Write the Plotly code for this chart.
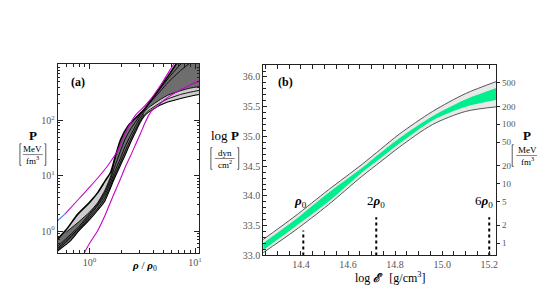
import plotly.graph_objects as go

W, H = 545, 307

# ---------------- Panel (a): P [MeV/fm^3] vs rho/rho0 ----------------
upper_x = [0.5, 0.6, 0.77, 1.0, 1.2, 1.4, 1.59, 1.75, 1.97, 2.3, 2.64, 3.28, 3.8, 4.7, 5.5, 6.5, 7.5, 9, 11]
upper_y = [0.72, 1.05, 2.0, 3.3, 5.0, 8.0, 11.7, 22, 45, 78, 104, 157, 230, 400, 620, 1000, 1500, 2200, 3000]
lower_x = [0.5, 0.65, 0.79, 1.0, 1.2, 1.39, 1.55, 1.72, 1.95, 2.16, 2.45, 2.71, 3.0, 3.3, 3.6, 4.0, 4.7, 5.5, 7.3, 9, 11]
lower_y = [0.44, 0.65, 1.0, 1.6, 2.4, 3.42, 5.5, 8.9, 15, 23, 40, 60, 90, 119, 140, 160, 190, 215, 250, 275, 295]
lens_x = [0.6, 0.8, 1.0, 1.2, 1.4, 1.59, 1.75]
lens_y = [0.95, 1.5, 2.2, 3.3, 5.5, 10, 22]
mid_x = [0.5, 0.79, 1.0, 1.2, 1.39, 1.55, 1.72, 1.95, 2.16, 2.45, 2.71, 3.0, 3.3, 3.6, 4.0, 4.7, 5.5, 7.3, 9, 11]
mid1_y = [0.46, 1.05, 1.75, 2.6, 3.9, 6.0, 10, 17, 27, 46, 68, 98, 128, 150, 172, 210, 245, 295, 325, 350]
mid2_y = [0.49, 1.12, 1.9, 2.9, 4.4, 6.8, 11.5, 20, 33, 54, 78, 110, 140, 168, 195, 240, 285, 345, 385, 410]
mid3_y = [0.53, 1.2, 2.05, 3.1, 4.9, 7.8, 14, 27, 45, 70, 92, 122, 150, 190, 240, 340, 480, 800, 1100, 1400]
stiff_x = [3.3, 4.0, 4.7, 5.5, 7.0, 8.5]
stiff_y = [155, 250, 380, 560, 950, 1400]
mag1_x = [0.58, 0.77, 1.0, 1.2, 1.48, 1.7, 1.84, 2.05, 2.28, 2.73, 3.3, 3.78, 4.4, 5.05, 5.7, 6.3]
mag1_y = [2.0, 3.6, 6.2, 9.2, 15, 22, 28, 45, 70, 125, 180, 240, 360, 535, 780, 1050]
blue_x = [0.5, 0.58]
blue_y = [1.55, 2.0]
mag2_x = [0.89, 1.0, 1.19, 1.4, 1.59, 1.8, 1.97, 2.2, 2.45, 2.75, 3.06, 3.35, 3.65, 4.0, 4.4, 5.05, 6.0, 7.3, 9, 11]
mag2_y = [0.40, 0.6, 1.0, 1.9, 3.42, 6.0, 8.9, 15, 23, 38, 60, 90, 125, 160, 180, 230, 290, 360, 440, 520]

# ---------------- Panel (b): log P vs log energy density ----------------
be_x = [14.23, 14.375, 14.516, 14.656, 14.74, 14.818, 14.959, 15.099, 15.235]
outer_hi = [33.24, 33.66, 34.10, 34.52, 34.79, 35.04, 35.42, 35.72, 35.93]
outer_lo = [33.02, 33.42, 33.85, 34.32, 34.58, 34.82, 35.20, 35.42, 35.50]
green_hi = [33.18, 33.60, 34.05, 34.46, 34.73, 34.97, 35.34, 35.62, 35.82]
green_lo = [33.06, 33.48, 33.90, 34.38, 34.64, 34.88, 35.27, 35.50, 35.62]
rho_x = [14.41, 14.72, 15.20]
rho_top = [33.42, 33.64, 33.64]
rho_labels = ["<b><i>ρ</i></b><sub>0</sub>", "2<b><i>ρ</i></b><sub>0</sub>", "6<b><i>ρ</i></b><sub>0</sub>"]
left_ticks = [33.0, 33.5, 34.0, 34.5, 35.0, 35.5, 36.0]
x2_ticks = [14.4, 14.6, 14.8, 15.0, 15.2]
right_ticks = [1, 2, 5, 10, 20, 50, 100, 200, 500]
LOG_MEV_FM3 = 33.2047  # log10 of 1 MeV/fm^3 in dyn/cm^2

SERIF = "Liberation Serif"
DARK = "#6e6e6e"
LIGHT = "#cdcdcd"
MAG = "#c800c8"

fig = go.Figure()


def line(x, y, color="black", width=1.0, xa="x", ya="y", fill=None, fillcolor=None, show=True, dash=None, sm=0.6):
    fig.add_trace(go.Scatter(
        x=x, y=y, mode="lines", xaxis=xa, yaxis=ya, fill=fill, fillcolor=fillcolor,
        line=dict(color=color, width=width if show else 0, shape="spline", smoothing=sm, dash=dash),
        hoverinfo="skip", showlegend=False))


# dark band
line(lower_x, lower_y, show=False)
line(upper_x, upper_y, show=False, fill="tonexty", fillcolor=DARK)
# light region right
k = lower_x.index(3.3)
j = mid_x.index(3.3)
line(lower_x[k:], lower_y[k:], show=False)
line(mid_x[j:], mid2_y[j:], show=False, fill="tonexty", fillcolor=LIGHT)
# lens
a0, a1 = upper_x.index(0.6), upper_x.index(1.75)
line(lens_x, lens_y, show=False)
line(upper_x[a0:a1 + 1], upper_y[a0:a1 + 1], show=False, fill="tonexty", fillcolor=LIGHT)
# black curves
for yy in (mid1_y, mid2_y, mid3_y):
    line(mid_x, yy, width=0.9)
line(stiff_x, stiff_y, width=0.9)
line(lens_x, lens_y, width=0.9)
line(lower_x, lower_y, width=1.1)
line(upper_x, upper_y, width=1.6)
# magenta / blue
line(mag2_x, mag2_y, color=MAG, width=1.1)
line(mag1_x, mag1_y, color=MAG, width=1.1)
line(blue_x, blue_y, color="#3f7fff", width=1.1)

# panel b bands
line(be_x, outer_lo, color="#444444", width=0.9, xa="x2", ya="y2", sm=0.8)
line(be_x, outer_hi, color="#444444", width=0.9, xa="x2", ya="y2", fill="tonexty", fillcolor="#e8e8e8", sm=0.8)
line(be_x, green_lo, show=False, xa="x2", ya="y2", sm=0.8)
line(be_x, green_hi, show=False, xa="x2", ya="y2", fill="tonexty", fillcolor="#00ee8c", sm=0.8)
for xv, yt in zip(rho_x, rho_top):
    fig.add_trace(go.Scatter(x=[xv, xv], y=[left_ticks[0], yt], mode="lines", xaxis="x2", yaxis="y2",
                             line=dict(color="black", width=2, dash="dot"), hoverinfo="skip", showlegend=False))
# dummy for right axis
fig.add_trace(go.Scatter(x=[be_x[0]], y=[right_ticks[0]], mode="markers", xaxis="x2", yaxis="y3",
                         marker=dict(opacity=0), hoverinfo="skip", showlegend=False))


def px(x):
    return x / W


def py(y):
    return 1 - y / H


tickfont = dict(family=SERIF, size=10, color="#555555")
axis_common = dict(showline=True, linecolor="#222222", linewidth=1, showgrid=False, zeroline=False,
                   ticks="inside", tickcolor="#222222", tickfont=tickfont)

dec_minor = [m * 10 ** e for e in (-1, 0, 1, 2) for m in range(2, 10)]

fig.update_layout(
    width=W, height=H, margin=dict(l=0, r=0, t=0, b=0),
    paper_bgcolor="white", plot_bgcolor="white",
    xaxis=dict(domain=[px(50), px(192.3)], anchor="y", type="log", range=[-0.302, 1.04],
               tickvals=[1, 10], ticktext=["10<sup>0</sup>", "10<sup>1</sup>"], ticklen=5, mirror="allticks",
               minor=dict(tickvals=dec_minor, ticklen=2.5, ticks="inside", tickcolor="#222222"), **axis_common),
    yaxis=dict(domain=[py(249), py(57)], anchor="x", type="log", range=[-0.397, 3.02],
               tickvals=[1, 10, 100], ticktext=["10<sup>0</sup>", "10<sup>1</sup>", "10<sup>2</sup>"], ticklen=5,
               mirror="allticks",
               minor=dict(tickvals=dec_minor, ticklen=2.5, ticks="inside", tickcolor="#222222"), **axis_common),
    xaxis2=dict(domain=[px(256.7), px(491)], anchor="y2", range=[14.24, 15.23],
                tickvals=x2_ticks, ticktext=[f"{v:.1f}" for v in x2_ticks], ticklen=4, mirror="allticks",
                minor=dict(dtick=0.05, tick0=14.0, ticklen=2.5, ticks="inside", tickcolor="#222222"), **axis_common),
    yaxis2=dict(domain=[py(251.5), py(58)], anchor="x2", range=[33.0, 36.2],
                tickvals=left_ticks, ticktext=[f"{v:.1f}" for v in left_ticks], ticklen=4, mirror=True,
                minor=dict(dtick=0.1, tick0=33.0, ticklen=2.5, ticks="inside", tickcolor="#222222"), **axis_common),
    yaxis3=dict(overlaying="y2", anchor="x2", side="right", type="log",
                range=[33.0 - LOG_MEV_FM3, 36.2 - LOG_MEV_FM3], tickvals=right_ticks,
                ticktext=[str(v) for v in right_ticks], ticks="outside", ticklen=3, tickcolor="#222222",
                showline=False, showgrid=False, zeroline=False,
                tickfont=dict(family=SERIF, size=9, color="#555555")),
)

ann = []
shapes = []


def text(x, y, s, size=11, color="black", xanchor="center"):
    ann.append(dict(x=px(x), y=py(y), xref="paper", yref="paper", text=s, showarrow=False,
                    font=dict(family=SERIF, size=size, color=color), xanchor=xanchor, yanchor="middle"))


def seg(x0, y0, x1, y1, w=0.8):
    shapes.append(dict(type="line", xref="paper", yref="paper", x0=px(x0), y0=py(y0), x1=px(x1), y1=py(y1),
                       line=dict(color="#333333", width=w)))


def unit(cx, cy, num, den, half, fr):
    text(cx, cy - 6, num, size=9)
    text(cx, cy + 6, den, size=9)
    seg(cx - fr, cy, cx + fr, cy, 0.6)
    for sx, d in ((cx - half, 1.5), (cx + half, -1.5)):
        seg(sx, cy - 11, sx, cy + 11)
        seg(sx, cy - 11, sx + d, cy - 11)
        seg(sx, cy + 11, sx + d, cy + 11)


text(70, 75, "<b>(a)</b>", size=12)
text(279, 75, "<b>(b)</b>", size=12)
text(25, 130, "<b>P</b>", size=13)
unit(25, 149, "MeV", "fm<sup>3</sup>", 13, 10)
text(218, 130, "log <b>P</b>", size=13)
unit(218, 153, "dyn", "cm<sup>2</sup>", 14, 10)
text(522, 130, "<b>P</b>", size=13)
unit(522, 150, "MeV", "fm<sup>3</sup>", 15, 11)
text(137, 262, "<b><i>ρ</i></b> / <b><i>ρ</i></b><sub>0</sub>", size=11)
text(385, 274, "log <b><i>ℰ</i></b>   [g/cm<sup>3</sup>]", size=12)

for xv, lab, dx in zip(rho_x, rho_labels, [-3, 0, -5]):
    ann.append(dict(x=xv, y=33.9, xref="x2", yref="y2", xshift=dx, text=lab, showarrow=False,
                    font=dict(family=SERIF, size=13, color="black"), xanchor="center", yanchor="middle"))

fig.update_layout(annotations=ann, shapes=shapes)
fig.write_html("out.html")
